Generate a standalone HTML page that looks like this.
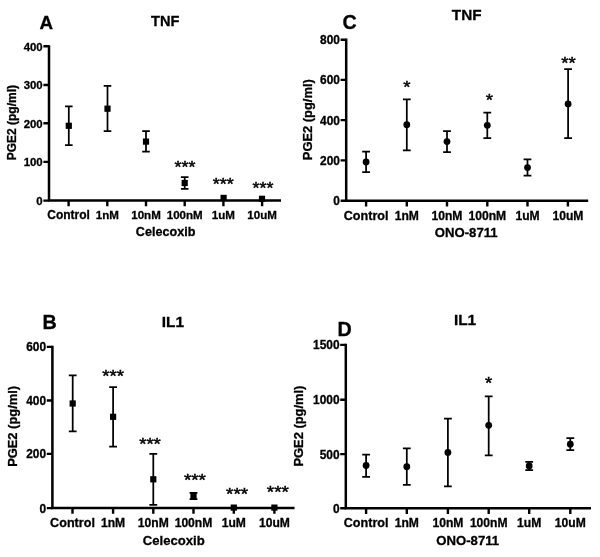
<!DOCTYPE html>
<html lang="en">
<head>
<meta charset="utf-8">
<title>PGE2 figure</title>
<style>
html,body{margin:0;padding:0;background:#fff;}
body{width:600px;height:557px;overflow:hidden;}
svg{display:block;filter:blur(0.35px);}
svg text{font-family:"Liberation Sans",Arial,Helvetica,sans-serif;font-weight:bold;fill:#000;stroke:#000;stroke-width:0.3px;}
svg text.st{font-weight:normal;stroke-width:0.5px;}
</style>
</head>
<body>
<svg width="600" height="557" viewBox="0 0 600 557">
<rect width="600" height="557" fill="#fff"/>
<g id="panel-A">
<path d="M49 45.2V200.6H281" fill="none" stroke="#000" stroke-width="2.5" stroke-linejoin="miter"/>
<path d="M43.4 200.6H49M43.4 161.9H49M43.4 123.3H49M43.4 85H49M43.4 46.3H49M68.6 200.6V206.3M107.3 200.6V206.3M146 200.6V206.3M184.7 200.6V206.3M223.4 200.6V206.3M262.1 200.6V206.3" stroke="#000" stroke-width="2.4" fill="none"/>
<text x="42.7" y="204.88" font-size="11.4" text-anchor="end">0</text>
<text x="42.7" y="166.18" font-size="11.4" text-anchor="end">100</text>
<text x="42.7" y="127.58" font-size="11.4" text-anchor="end">200</text>
<text x="42.7" y="89.28" font-size="11.4" text-anchor="end">300</text>
<text x="42.7" y="50.58" font-size="11.4" text-anchor="end">400</text>
<text x="68.6" y="218.9" font-size="12.0" text-anchor="middle">Control</text>
<text x="107.3" y="218.9" font-size="11.55" text-anchor="middle">1nM</text>
<text x="146" y="218.9" font-size="11.55" text-anchor="middle">10nM</text>
<text x="184.7" y="218.9" font-size="11.55" text-anchor="middle">100nM</text>
<text x="223.4" y="218.9" font-size="11.55" text-anchor="middle">1uM</text>
<text x="262.1" y="218.9" font-size="11.55" text-anchor="middle">10uM</text>
<text x="165.6" y="235.7" font-size="12.6" text-anchor="middle">Celecoxib</text>
<text x="165.2" y="26.4" font-size="14.6" text-anchor="middle">TNF</text>
<text x="39.5" y="28.5" font-size="18.8">A</text>
<text transform="translate(15.6 122.7) rotate(-90)" font-size="12" text-anchor="middle">PGE2 (pg/ml)</text>
<path d="M68.8 106.3V145M65 106.3H72.6M65 145H72.6M107.5 85.9V131M103.7 85.9H111.3M103.7 131H111.3M146 131.2V151.5M142.2 131.2H149.8M142.2 151.5H149.8M184.7 177.1V188.9M180.9 177.1H188.5M180.9 188.9H188.5" stroke="#000" stroke-width="1.75" fill="none"/>
<rect x="65.7" y="122.7" width="6.2" height="6.2"/>
<rect x="104.4" y="105.6" width="6.2" height="6.2"/>
<rect x="142.9" y="138.5" width="6.2" height="6.2"/>
<rect x="181.6" y="179.9" width="6.2" height="6.2"/>
<rect x="220.5" y="194.8" width="6.2" height="6.2"/>
<rect x="258.9" y="195.7" width="6.2" height="6.2"/>
<text transform="translate(185 172.58) scale(1 0.9)" font-size="17.9" text-anchor="middle" class="st">***</text>
<text transform="translate(223.2 189.98) scale(1 0.9)" font-size="17.9" text-anchor="middle" class="st">***</text>
<text transform="translate(263 193.98) scale(1 0.9)" font-size="17.9" text-anchor="middle" class="st">***</text>
</g>
<g id="panel-C">
<path d="M346.2 38.6V200.7H588.2" fill="none" stroke="#000" stroke-width="2.5" stroke-linejoin="miter"/>
<path d="M340.6 200.7H346.2M340.6 160.4H346.2M340.6 120.1H346.2M340.6 79.9H346.2M340.6 39.7H346.2M366.1 200.7V206.4M406.8 200.7V206.4M447 200.7V206.4M487.3 200.7V206.4M527.5 200.7V206.4M567.9 200.7V206.4" stroke="#000" stroke-width="2.4" fill="none"/>
<text x="339.9" y="205.16" font-size="11.9" text-anchor="end">0</text>
<text x="339.9" y="164.86" font-size="11.9" text-anchor="end">200</text>
<text x="339.9" y="124.56" font-size="11.9" text-anchor="end">400</text>
<text x="339.9" y="84.36" font-size="11.9" text-anchor="end">600</text>
<text x="339.9" y="44.16" font-size="11.9" text-anchor="end">800</text>
<text x="366.1" y="219.5" font-size="12.6" text-anchor="middle">Control</text>
<text x="406.8" y="219.5" font-size="12.1" text-anchor="middle">1nM</text>
<text x="447" y="219.5" font-size="12.1" text-anchor="middle">10nM</text>
<text x="487.3" y="219.5" font-size="12.1" text-anchor="middle">100nM</text>
<text x="527.5" y="219.5" font-size="12.1" text-anchor="middle">1uM</text>
<text x="567.9" y="219.5" font-size="12.1" text-anchor="middle">10uM</text>
<text x="466.2" y="237.4" font-size="13.15" text-anchor="middle">ONO-8711</text>
<text x="466.7" y="19.5" font-size="15.3" text-anchor="middle">TNF</text>
<text x="342.5" y="28.7" font-size="19.7">C</text>
<text transform="translate(311.9 119.7) rotate(-90)" font-size="12.9" text-anchor="middle">PGE2 (pg/ml)</text>
<path d="M366.1 151.7V172M362.2 151.7H370M362.2 172H370M406.8 99.3V150.4M402.9 99.3H410.7M402.9 150.4H410.7M447 131V152.2M443.1 131H450.9M443.1 152.2H450.9M487.3 112.7V138.2M483.4 112.7H491.2M483.4 138.2H491.2M527.5 159.3V175.6M523.6 159.3H531.4M523.6 175.6H531.4M568.1 69V138.2M564.2 69H572M564.2 138.2H572" stroke="#000" stroke-width="1.75" fill="none"/>
<circle cx="366.1" cy="162" r="3.4"/>
<circle cx="406.8" cy="124.7" r="3.4"/>
<circle cx="447" cy="141.6" r="3.4"/>
<circle cx="487.3" cy="125.3" r="3.4"/>
<circle cx="527.5" cy="167.6" r="3.4"/>
<circle cx="568.1" cy="103.9" r="3.4"/>
<text transform="translate(406.8 93.13) scale(1 0.9)" font-size="18.6" text-anchor="middle" class="st">*</text>
<text transform="translate(489.4 106.43) scale(1 0.9)" font-size="18.6" text-anchor="middle" class="st">*</text>
<text transform="translate(568.5 69.23) scale(1 0.9)" font-size="18.6" text-anchor="middle" class="st">**</text>
</g>
<g id="panel-B">
<path d="M52.4 345.8V508.1H294.5" fill="none" stroke="#000" stroke-width="2.5" stroke-linejoin="miter"/>
<path d="M46.8 508.1H52.4M46.8 453.9H52.4M46.8 400.5H52.4M46.8 346.9H52.4M72.5 508.1V513.8M113.1 508.1V513.8M153.3 508.1V513.8M193.5 508.1V513.8M233.8 508.1V513.8M274.4 508.1V513.8" stroke="#000" stroke-width="2.4" fill="none"/>
<text x="46.1" y="512.56" font-size="11.9" text-anchor="end">0</text>
<text x="46.1" y="458.36" font-size="11.9" text-anchor="end">200</text>
<text x="46.1" y="404.96" font-size="11.9" text-anchor="end">400</text>
<text x="46.1" y="351.36" font-size="11.9" text-anchor="end">600</text>
<text x="72.5" y="526.9" font-size="12.6" text-anchor="middle">Control</text>
<text x="113.1" y="526.9" font-size="12.1" text-anchor="middle">1nM</text>
<text x="153.3" y="526.9" font-size="12.1" text-anchor="middle">10nM</text>
<text x="193.5" y="526.9" font-size="12.1" text-anchor="middle">100nM</text>
<text x="233.8" y="526.9" font-size="12.1" text-anchor="middle">1uM</text>
<text x="274.4" y="526.9" font-size="12.1" text-anchor="middle">10uM</text>
<text x="173.8" y="544.8" font-size="13.1" text-anchor="middle">Celecoxib</text>
<text x="172.9" y="326.8" font-size="15.4" text-anchor="middle">IL1</text>
<text x="42.4" y="328.5" font-size="19.7">B</text>
<text transform="translate(16.9 426.4) rotate(-90)" font-size="12.9" text-anchor="middle">PGE2 (pg/ml)</text>
<path d="M72.7 375.4V431.3M68.8 375.4H76.6M68.8 431.3H76.6M113.1 387.2V446.6M109.2 387.2H117M109.2 446.6H117M153.3 453.9V504.9M149.4 453.9H157.2M149.4 504.9H157.2M193.5 492.9V499M189.6 492.9H197.4M189.6 499H197.4" stroke="#000" stroke-width="1.75" fill="none"/>
<rect x="69.6" y="400.4" width="6.2" height="6.2"/>
<rect x="110" y="413.7" width="6.2" height="6.2"/>
<rect x="150.2" y="476.2" width="6.2" height="6.2"/>
<rect x="190.4" y="492.7" width="6.2" height="6.2"/>
<rect x="230.7" y="504.5" width="6.2" height="6.2"/>
<rect x="271.3" y="504.5" width="6.2" height="6.2"/>
<text transform="translate(113.2 381.63) scale(1 0.9)" font-size="18.6" text-anchor="middle" class="st">***</text>
<text transform="translate(150 450.13) scale(1 0.9)" font-size="18.6" text-anchor="middle" class="st">***</text>
<text transform="translate(194.9 485.73) scale(1 0.9)" font-size="18.9" text-anchor="middle" class="st">***</text>
<text transform="translate(237.1 499.73) scale(1 0.9)" font-size="18.9" text-anchor="middle" class="st">***</text>
<text transform="translate(277.8 498.43) scale(1 0.9)" font-size="18.9" text-anchor="middle" class="st">***</text>
</g>
<g id="panel-D">
<path d="M345.8 343.8V508.2H591" fill="none" stroke="#000" stroke-width="2.5" stroke-linejoin="miter"/>
<path d="M340.2 508.2H345.8M340.2 454.1H345.8M340.2 399.7H345.8M340.2 344.9H345.8M366.1 508.2V513.9M406.8 508.2V513.9M447.9 508.2V513.9M488.7 508.2V513.9M529.2 508.2V513.9M570.3 508.2V513.9" stroke="#000" stroke-width="2.4" fill="none"/>
<text x="339.5" y="512.66" font-size="11.9" text-anchor="end">0</text>
<text x="339.5" y="458.56" font-size="11.9" text-anchor="end">500</text>
<text x="339.5" y="404.16" font-size="11.9" text-anchor="end">1000</text>
<text x="339.5" y="349.36" font-size="11.9" text-anchor="end">1500</text>
<text x="366.1" y="527.1" font-size="12.6" text-anchor="middle">Control</text>
<text x="406.8" y="527.1" font-size="12.1" text-anchor="middle">1nM</text>
<text x="447.9" y="527.1" font-size="12.1" text-anchor="middle">10nM</text>
<text x="488.7" y="527.1" font-size="12.1" text-anchor="middle">100nM</text>
<text x="529.2" y="527.1" font-size="12.1" text-anchor="middle">1uM</text>
<text x="570.3" y="527.1" font-size="12.1" text-anchor="middle">10uM</text>
<text x="467.7" y="545.2" font-size="13.15" text-anchor="middle">ONO-8711</text>
<text x="465" y="325" font-size="15.4" text-anchor="middle">IL1</text>
<text x="337.4" y="335.8" font-size="19.7">D</text>
<text transform="translate(303.4 426.1) rotate(-90)" font-size="12.9" text-anchor="middle">PGE2 (pg/ml)</text>
<path d="M366.1 454.7V476.8M362.2 454.7H370M362.2 476.8H370M406.8 448.4V484.8M402.9 448.4H410.7M402.9 484.8H410.7M447.9 418.6V486.4M444 418.6H451.8M444 486.4H451.8M488.7 396.3V455.3M484.8 396.3H492.6M484.8 455.3H492.6M529.2 461.8V470M525.3 461.8H533.1M525.3 470H533.1M570.3 438V450.2M566.4 438H574.2M566.4 450.2H574.2" stroke="#000" stroke-width="1.75" fill="none"/>
<circle cx="366.1" cy="465.5" r="3.4"/>
<circle cx="406.8" cy="466.7" r="3.4"/>
<circle cx="447.9" cy="452.4" r="3.4"/>
<circle cx="488.7" cy="425.3" r="3.4"/>
<circle cx="529.2" cy="466" r="3.4"/>
<circle cx="570.3" cy="444.2" r="3.4"/>
<text transform="translate(488.7 389.13) scale(1 0.9)" font-size="18.6" text-anchor="middle" class="st">*</text>
</g>
</svg>
</body>
</html>
